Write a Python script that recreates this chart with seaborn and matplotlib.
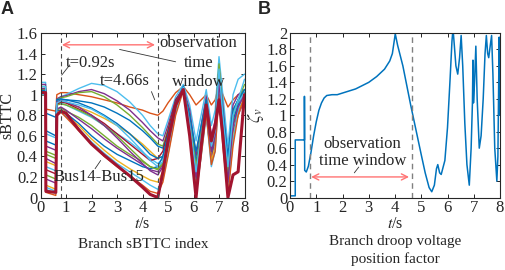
import seaborn as sns
import pandas as pd
import matplotlib.pyplot as plt

# matlab default line colours
c_blue = (0, 0.447, 0.741)
c_orange = (0.85, 0.325, 0.098)
c_yellow = (0.929, 0.694, 0.125)
c_purple = (0.494, 0.184, 0.556)
c_green = (0.466, 0.674, 0.188)
c_cyan = (0.301, 0.745, 0.933)
c_red = (0.635, 0.078, 0.184)

# panel A: sBTTC of each branch, sampled at t_a
t_a = [0.0, 0.2, 0.21, 0.6, 0.64, 0.8, 1.0, 1.5, 2.0, 2.5, 3.0, 3.5, 4.0, 4.3, 4.6, 4.8,
       5.0, 5.3, 5.6, 5.85, 6.1, 6.3, 6.5, 6.7, 6.85, 7.0, 7.15, 7.35, 7.55, 7.75, 8.0]

br01 = [1.05, 1.05, 0.86, 0.84, 1.0, 1.02, 1.02, 1.0, 0.98, 0.95, 0.92, 0.88, 0.85, 0.82, 0.8, 0.84,
        0.92, 1.02, 1.08, 1.0, 0.9, 0.95, 1.0, 0.9, 0.95, 1.1, 1.0, 0.88, 0.95, 1.0, 1.0]
br02 = [1.12, 1.12, 0.62, 0.58, 0.95, 0.98, 1.0, 1.06, 1.11, 1.09, 1.03, 0.93, 0.8, 0.7, 0.62, 0.6,
        0.75, 0.98, 1.1, 0.9, 0.55, 0.8, 1.05, 0.7, 0.85, 1.37, 1.0, 0.5, 1.0, 1.15, 1.2]
br03 = [1.1, 1.1, 0.5, 0.46, 0.96, 0.98, 0.99, 1.03, 1.05, 1.01, 0.94, 0.85, 0.73, 0.65, 0.58, 0.55,
        0.7, 0.95, 1.07, 0.85, 0.4, 0.7, 0.98, 0.6, 0.75, 1.25, 0.9, 0.35, 0.9, 1.0, 1.05]
br04 = [1.08, 1.08, 0.42, 0.38, 0.95, 0.97, 0.98, 1.02, 1.03, 0.98, 0.9, 0.8, 0.68, 0.6, 0.52, 0.5,
        0.66, 0.93, 1.06, 0.8, 0.3, 0.65, 0.95, 0.55, 0.7, 1.3, 0.85, 0.3, 0.85, 0.95, 1.1]
br05 = [1.06, 1.06, 0.82, 0.78, 0.93, 0.95, 0.95, 0.94, 0.92, 0.88, 0.82, 0.75, 0.65, 0.58, 0.5, 0.48,
        0.62, 0.9, 1.05, 0.78, 0.35, 0.6, 0.9, 0.5, 0.65, 1.15, 0.8, 0.3, 0.8, 0.95, 1.02]
br06 = [1.03, 1.03, 0.35, 0.31, 0.92, 0.93, 0.92, 0.88, 0.83, 0.77, 0.7, 0.62, 0.52, 0.45, 0.38, 0.4,
        0.58, 0.88, 1.05, 0.75, 0.25, 0.55, 0.88, 0.45, 0.6, 1.2, 0.75, 0.25, 0.75, 0.9, 1.0]
br07 = [1.02, 1.02, 0.3, 0.26, 0.9, 0.92, 0.9, 0.84, 0.78, 0.7, 0.62, 0.54, 0.44, 0.38, 0.33, 0.38,
        0.58, 0.9, 1.08, 0.75, 0.2, 0.5, 0.85, 0.4, 0.55, 1.0, 0.7, 0.2, 0.7, 0.92, 1.05]
br08 = [1.04, 1.04, 0.27, 0.23, 0.9, 0.93, 0.92, 0.86, 0.8, 0.72, 0.62, 0.52, 0.42, 0.36, 0.38, 0.45,
        0.65, 0.95, 1.05, 0.7, 0.15, 0.5, 0.8, 0.45, 0.55, 1.05, 0.65, 0.2, 0.6, 0.85, 0.95]
br09 = [1.03, 1.03, 0.22, 0.18, 0.85, 0.87, 0.84, 0.78, 0.7, 0.6, 0.5, 0.42, 0.35, 0.3, 0.28, 0.35,
        0.55, 0.88, 1.05, 0.7, 0.2, 0.55, 0.85, 0.4, 0.6, 1.1, 0.7, 0.15, 0.7, 0.85, 0.95]
br10 = [1.02, 1.02, 0.18, 0.14, 0.86, 0.88, 0.85, 0.76, 0.67, 0.57, 0.48, 0.4, 0.32, 0.27, 0.25, 0.32,
        0.52, 0.88, 1.04, 0.7, 0.1, 0.5, 0.8, 0.38, 0.55, 1.0, 0.6, 0.1, 0.65, 0.8, 0.95]
br11 = [1.01, 1.01, 0.55, 0.51, 0.84, 0.85, 0.82, 0.72, 0.6, 0.5, 0.42, 0.36, 0.3, 0.28, 0.3, 0.4,
        0.6, 0.92, 1.08, 0.72, 0.18, 0.55, 0.9, 0.45, 0.6, 1.1, 0.7, 0.2, 0.75, 0.9, 1.0]
br12 = [1.0, 1.0, 0.12, 0.08, 0.83, 0.84, 0.8, 0.7, 0.57, 0.46, 0.36, 0.28, 0.21, 0.17, 0.15, 0.25,
        0.48, 0.85, 1.05, 0.68, 0.08, 0.45, 0.85, 0.35, 0.5, 1.15, 0.6, 0.05, 0.6, 0.8, 1.0]
br13 = [1.0, 1.0, 0.1, 0.06, 0.82, 0.83, 0.79, 0.67, 0.54, 0.43, 0.33, 0.25, 0.17, 0.12, 0.08, 0.18,
        0.42, 0.82, 1.06, 0.65, 0.05, 0.4, 0.8, 0.3, 0.45, 1.05, 0.55, 0.05, 0.55, 0.85, 1.05]
br14 = [1.02, 1.02, 0.05, 0.02, 0.82, 0.83, 0.78, 0.65, 0.52, 0.4, 0.3, 0.21, 0.12, 0.06, 0.04, 0.15,
        0.4, 0.8, 1.04, 0.62, 0.03, 0.4, 0.82, 0.32, 0.45, 1.0, 0.5, 0.03, 0.5, 0.8, 0.98]
br15 = [1.05, 1.05, 0.45, 0.41, 0.9, 0.91, 0.9, 0.85, 0.79, 0.7, 0.6, 0.48, 0.36, 0.3, 0.27, 0.33,
        0.55, 0.9, 1.05, 0.75, 0.3, 0.6, 0.9, 0.5, 0.65, 1.2, 0.75, 0.25, 0.8, 0.95, 1.05]
br16 = [1.04, 1.04, 0.65, 0.6, 0.95, 0.96, 0.95, 0.92, 0.87, 0.8, 0.72, 0.62, 0.5, 0.42, 0.38, 0.4,
        0.6, 0.92, 1.06, 0.8, 0.45, 0.7, 0.95, 0.55, 0.7, 1.2, 0.85, 0.4, 0.85, 0.95, 1.05]
br17 = [1.06, 1.06, 0.38, 0.33, 0.93, 0.94, 0.93, 0.88, 0.8, 0.7, 0.58, 0.45, 0.33, 0.26, 0.22, 0.3,
        0.5, 0.88, 1.05, 0.72, 0.2, 0.55, 0.88, 0.45, 0.6, 1.12, 0.7, 0.15, 0.7, 0.88, 1.0]
br18 = [1.08, 1.08, 0.08, 0.04, 0.92, 0.94, 0.93, 0.9, 0.86, 0.79, 0.7, 0.58, 0.45, 0.36, 0.3, 0.35,
        0.55, 0.9, 1.07, 0.72, 0.25, 0.6, 0.9, 0.5, 0.65, 1.25, 0.8, 0.3, 0.8, 0.95, 1.15]
# Bus14-Bus15 (thick)
br_14_15 = [1.02, 1.02, 0.06, 0.05, 0.8, 0.84, 0.82, 0.66, 0.52, 0.41, 0.31, 0.21, 0.1, 0.03, 0.0, 0.25,
            0.55, 0.9, 1.05, 0.6, 0.0, 0.5, 0.9, 0.55, 0.7, 0.95, 0.6, 0.0, 0.22, 0.25, 1.0]

branches = [br01, br02, br03, br04, br05, br06, br07, br08, br09,
            br10, br11, br12, br13, br14, br15, br16, br17, br18]
branch_colors = [c_orange, c_cyan, c_purple, c_green, c_blue, c_yellow, c_cyan, c_red, c_green,
                 c_purple, c_blue, c_yellow, c_cyan, c_orange, c_green, c_blue, c_purple, c_cyan]

# panel B: droop voltage position factor
t_b = [0.0, 0.2, 0.2, 0.55, 0.55, 0.56, 0.62, 0.7, 0.8, 0.9, 1.0, 1.1, 1.2, 1.3, 1.4, 1.6, 1.8, 2.0,
       2.5, 3.0, 3.3, 3.6, 3.8, 3.9, 4.01, 4.1, 4.3, 4.6, 4.8, 5.0, 5.15, 5.3, 5.4, 5.5, 5.58, 5.63,
       5.7, 5.76, 5.9, 6.0, 6.1, 6.17, 6.21, 6.26, 6.32, 6.39, 6.46, 6.52, 6.58, 6.66, 6.74, 6.83,
       6.9, 6.95, 6.97, 6.99, 7.03, 7.08, 7.13, 7.21, 7.28, 7.36, 7.43, 7.48, 7.53, 7.57, 7.63, 7.68,
       7.73, 7.8, 7.88, 7.92, 7.95, 7.97, 7.98]
zeta_v = [0.02, 0.02, 0.7, 0.7, 1.23, 0.33, 0.31, 0.38, 0.55, 0.75, 0.92, 1.06, 1.15, 1.21, 1.24, 1.25,
          1.25, 1.27, 1.32, 1.4, 1.47, 1.56, 1.66, 1.75, 1.99, 1.85, 1.6, 1.12, 0.82, 0.52, 0.3, 0.12,
          0.07, 0.15, 0.35, 0.4, 0.3, 0.28, 0.45, 0.85, 1.45, 1.9, 2.05, 1.85, 1.6, 1.5, 1.7, 1.97,
          1.6, 0.9, 0.4, 0.15, 0.6, 1.15, 1.67, 1.15, 1.4, 1.84, 1.2, 0.6, 0.75, 1.2, 1.75, 1.97, 1.75,
          1.7, 1.85, 1.97, 1.5, 0.6, 0.2, 0.5, 1.4, 1.95, 1.0]

win_start_a, win_end_a = 0.8, 4.6
win_start_b, win_end_b = 0.75, 4.64

rows = []
for i, vals in enumerate(branches):
    for t, v in zip(t_a, vals):
        rows.append({"t": t, "sBTTC": v, "branch": "br%02d" % (i + 1)})
df_a = pd.DataFrame(rows)
df_thick = pd.DataFrame({"t": t_a, "sBTTC": br_14_15})
df_b = pd.DataFrame({"t": t_b, "zeta": zeta_v})

sns.set_style("ticks")
plt.rcParams["font.family"] = ["Liberation Serif", "DejaVu Serif"]
plt.rcParams["mathtext.fontset"] = "stix"
plt.rcParams["font.size"] = 11

fig = plt.figure(figsize=(5.05, 2.7), dpi=100)
ax1 = fig.add_axes([40.5 / 505, 1 - 197.5 / 270, 204 / 505, 164.5 / 270])
ax2 = fig.add_axes([290 / 505, 1 - 197.5 / 270, 210 / 505, 164.5 / 270])

pal = {"br%02d" % (i + 1): c for i, c in enumerate(branch_colors)}
sns.lineplot(data=df_a, x="t", y="sBTTC", hue="branch", palette=pal, estimator=None, sort=False,
             legend=False, linewidth=1.0, ax=ax1)
sns.lineplot(data=df_thick, x="t", y="sBTTC", color=c_red, estimator=None, sort=False,
             linewidth=2.2, ax=ax1)
sns.lineplot(data=df_b, x="t", y="zeta", color=(0.0, 0.45, 0.74), estimator=None, sort=False,
             linewidth=1.1, ax=ax2)

for ax in (ax1, ax2):
    ax.set_xlim(0, 8)
    ax.set_xticks(range(0, 9))
    ax.tick_params(direction="in", top=True, right=True, length=3, width=0.7, labelsize=12, pad=2)
    for s in ax.spines.values():
        s.set_linewidth(0.8)
    ax.set_xlabel(r"$t$/s", fontsize=11.5, labelpad=0)

ax1.set_ylim(0, 1.6)
ax1.set_yticks([0, 0.2, 0.4, 0.6, 0.8, 1.0, 1.2, 1.4, 1.6])
ax1.set_yticklabels(["0", "0.2", "0.4", "0.6", "0.8", "1", "1.2", "1.4", "1.6"])
ax1.set_ylabel("sBTTC", fontsize=11.5, labelpad=1)
ax2.set_ylim(0, 2)
ax2.set_yticks([0, 0.2, 0.4, 0.6, 0.8, 1.0, 1.2, 1.4, 1.6, 1.8, 2.0])
ax2.set_yticklabels(["0", "0.2", "0.4", "0.6", "0.8", "1", "1.2", "1.4", "1.6", "1.8", "2"])
ax2.set_ylabel(r"$\zeta_v$", fontsize=13, labelpad=0)

# observation window markers
for x in (win_start_a, win_end_a):
    ax1.axvline(x, color="0.3", ls=(0, (4, 3)), lw=0.8)
for x in (win_start_b, win_end_b):
    ax2.axvline(x, color="0.5", ls=(0, (4, 3)), lw=1.0)

arrow_col = (1.0, 0.45, 0.45)
ax1.annotate("", xy=(win_start_a - 0.07, 1.485), xytext=(win_end_a, 1.485),
             arrowprops=dict(arrowstyle="<->", color=arrow_col, lw=1.0))
ax2.annotate("", xy=(win_start_b - 0.05, 0.25), xytext=(win_end_b, 0.25),
             arrowprops=dict(arrowstyle="<->", color=arrow_col, lw=1.0))

ax1.text(6.2, 1.5, "observation", ha="center", va="center", fontsize=12)
ax1.text(6.2, 1.31, "time", ha="center", va="center", fontsize=12)
ax1.text(6.2, 1.12, "window", ha="center", va="center", fontsize=12)
ax1.plot([3.1, 5.3], [1.44, 1.32], color="0.2", lw=0.6)
ax1.text(1.97, 1.31, "t=0.92s", ha="center", va="center", fontsize=12)
ax1.plot([0.83, 1.15], [1.19, 1.29], color="0.2", lw=0.6)
ax1.text(3.3, 1.13, "t=4.66s", ha="center", va="center", fontsize=12)
ax1.plot([4.35, 4.48], [1.03, 0.95], color="0.2", lw=0.6)
ax1.text(2.3, 0.2, "Bus14-Bus15", ha="center", va="center", fontsize=12)
ax1.plot([2.14, 2.36], [0.28, 0.36], color="0.2", lw=0.6)

ax2.text(2.76, 0.645, "observation", ha="center", va="center", fontsize=12)
ax2.text(2.76, 0.445, "time window", ha="center", va="center", fontsize=12)
ax2.plot([2.45, 2.62], [0.3, 0.37], color="0.2", lw=0.6)

# captions and panel letters
fig.text(143 / 505, 1 - 245 / 270, "Branch sBTTC index", ha="center", va="center", fontsize=11)
fig.text(395 / 505, 1 - 241 / 270, "Branch droop voltage", ha="center", va="center", fontsize=11)
fig.text(395 / 505, 1 - 259 / 270, "position factor", ha="center", va="center", fontsize=11)
fig.text(1 / 505, 1 - 9 / 270, "A", ha="left", va="center", fontsize=13, fontweight="bold",
         family="Liberation Sans")
fig.text(258 / 505, 1 - 9 / 270, "B", ha="left", va="center", fontsize=13, fontweight="bold",
         family="Liberation Sans")

fig.savefig("out.png", dpi=100)
